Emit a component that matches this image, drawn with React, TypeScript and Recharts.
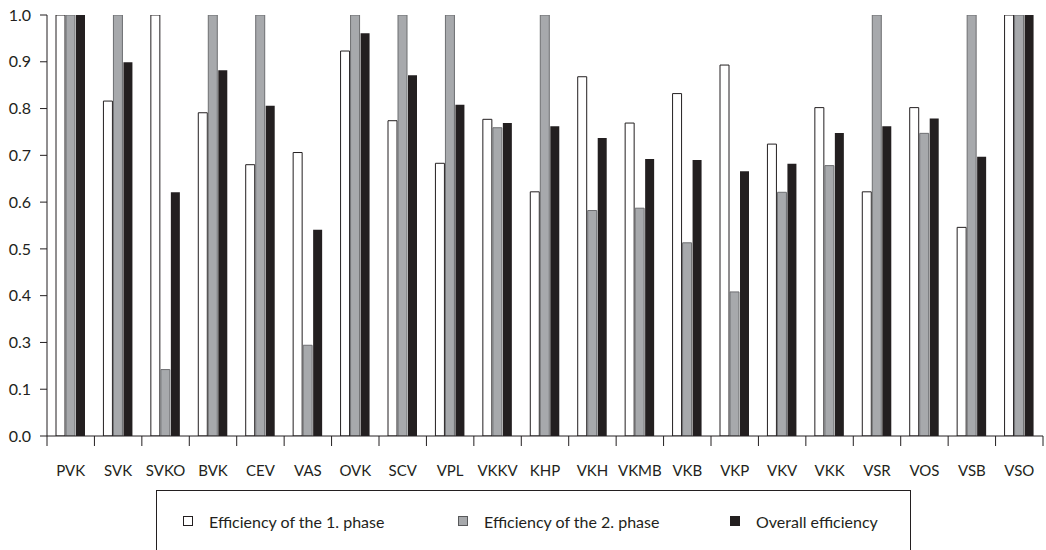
import { BarChart, Bar, XAxis, YAxis } from 'recharts';

const units = [
  'PVK', 'SVK', 'SVKO', 'BVK', 'CEV', 'VAS', 'OVK', 'SCV', 'VPL', 'VKKV', 'KHP',
  'VKH', 'VKMB', 'VKB', 'VKP', 'VKV', 'VKK', 'VSR', 'VOS', 'VSB', 'VSO',
];

const phase1 = [
  1.0, 0.816, 1.0, 0.791, 0.68, 0.706, 0.923, 0.774, 0.683, 0.777, 0.622,
  0.868, 0.769, 0.832, 0.893, 0.724, 0.802, 0.622, 0.802, 0.546, 1.0,
];

const phase2 = [
  1.0, 1.0, 0.242, 1.0, 1.0, 0.294, 1.0, 1.0, 1.0, 0.759, 1.0,
  0.582, 0.587, 0.513, 0.408, 0.621, 0.678, 1.0, 0.747, 1.0, 1.0,
];

const overall = [
  1.0, 0.899, 0.621, 0.882, 0.806, 0.541, 0.961, 0.871, 0.808, 0.769, 0.762,
  0.737, 0.692, 0.69, 0.666, 0.682, 0.748, 0.762, 0.779, 0.697, 1.0,
];

// tick values on the axis and the labels printed next to them (the source skips "0.2")
const yTicks = [0.1, 0.2, 0.3, 0.4, 0.5, 0.6, 0.7, 0.8, 0.9, 1.0];
const yTickLabels = ['0.0', '0.1', '0.3', '0.4', '0.5', '0.6', '0.7', '0.8', '0.9', '1.0'];

const seriesNames = ['Efficiency of the 1. phase', 'Efficiency of the 2. phase', 'Overall efficiency'];

const data = units.map((name, i) => ({
  name,
  p1: phase1[i],
  p2: phase2[i],
  all: overall[i],
}));

const INK = '#231f20';
const FONT = 'Lato, "Open Sans", sans-serif';
const HALF_BAND = 996 / 21 / 2;

const XTick = (props: any) => {
  const { x, y, payload, index } = props;
  return (
    <g>
      <line x1={x - HALF_BAND} x2={x - HALF_BAND} y1={y} y2={y + 10} stroke={INK} />
      {index === units.length - 1 && (
        <line x1={x + HALF_BAND} x2={x + HALF_BAND} y1={y} y2={y + 10} stroke={INK} />
      )}
      <text x={x} y={y + 40} textAnchor="middle" fill={INK} fontSize={15} fontFamily={FONT}>
        {payload.value}
      </text>
    </g>
  );
};

const legendSwatches = [
  { fill: '#ffffff', stroke: INK, left: 26 },
  { fill: '#a7a9ac', stroke: '#58595b', left: 301 },
  { fill: INK, stroke: INK, left: 573 },
];

export default function App() {
  return (
    <div style={{ position: 'absolute', left: 0, top: 0, width: 1046, height: 550, overflow: 'hidden', background: '#fff' }}>
      <BarChart
        width={1046}
        height={550}
        data={data}
        margin={{ top: 15, right: 3, left: 0, bottom: 0 }}
        barSize={9}
        barGap={1}
      >
        <XAxis
          dataKey="name"
          height={114}
          interval={0}
          tickSize={0}
          tickMargin={0}
          tickLine={false}
          axisLine={{ stroke: INK }}
          tick={<XTick />}
        />
        <XAxis xAxisId="top" orientation="top" height={0} tick={false} tickLine={false} axisLine={{ stroke: INK }} />
        <YAxis
          type="number"
          domain={[0.1, 1]}
          allowDataOverflow
          ticks={yTicks}
          interval={0}
          width={47}
          tickSize={7}
          tickMargin={9}
          tickLine={{ stroke: INK }}
          axisLine={{ stroke: INK }}
          tick={{ fill: INK, fontSize: 16, fontFamily: FONT }}
          tickFormatter={(_v: number, i: number) => yTickLabels[i]}
        />
        <YAxis yAxisId="r" orientation="right" width={0} domain={[0.1, 1]} tick={false} tickLine={false} axisLine={{ stroke: INK }} />
        <Bar dataKey="p1" name={seriesNames[0]} fill="#ffffff" stroke={INK} strokeWidth={1} isAnimationActive={false} />
        <Bar dataKey="p2" name={seriesNames[1]} fill="#a7a9ac" stroke="#6d6e71" strokeWidth={1} isAnimationActive={false} />
        <Bar dataKey="all" name={seriesNames[2]} fill={INK} isAnimationActive={false} />
      </BarChart>

      {/* legend box */}
      <div
        style={{
          position: 'absolute',
          left: 156,
          top: 490,
          width: 755,
          height: 90,
          border: `1px solid ${INK}`,
          boxSizing: 'border-box',
          fontFamily: FONT,
          fontSize: 16,
          color: INK,
        }}
      >
        {seriesNames.map((n, i) => (
          <div
            key={n}
            style={{ position: 'absolute', left: legendSwatches[i].left, top: 20, display: 'flex', alignItems: 'center', whiteSpace: 'nowrap', height: 20 }}
          >
            <span
              style={{
                display: 'inline-block',
                width: 8,
                height: 8,
                background: legendSwatches[i].fill,
                border: `1px solid ${legendSwatches[i].stroke}`,
                marginRight: 16,
              }}
            />
            {n}
          </div>
        ))}
      </div>
    </div>
  );
}
